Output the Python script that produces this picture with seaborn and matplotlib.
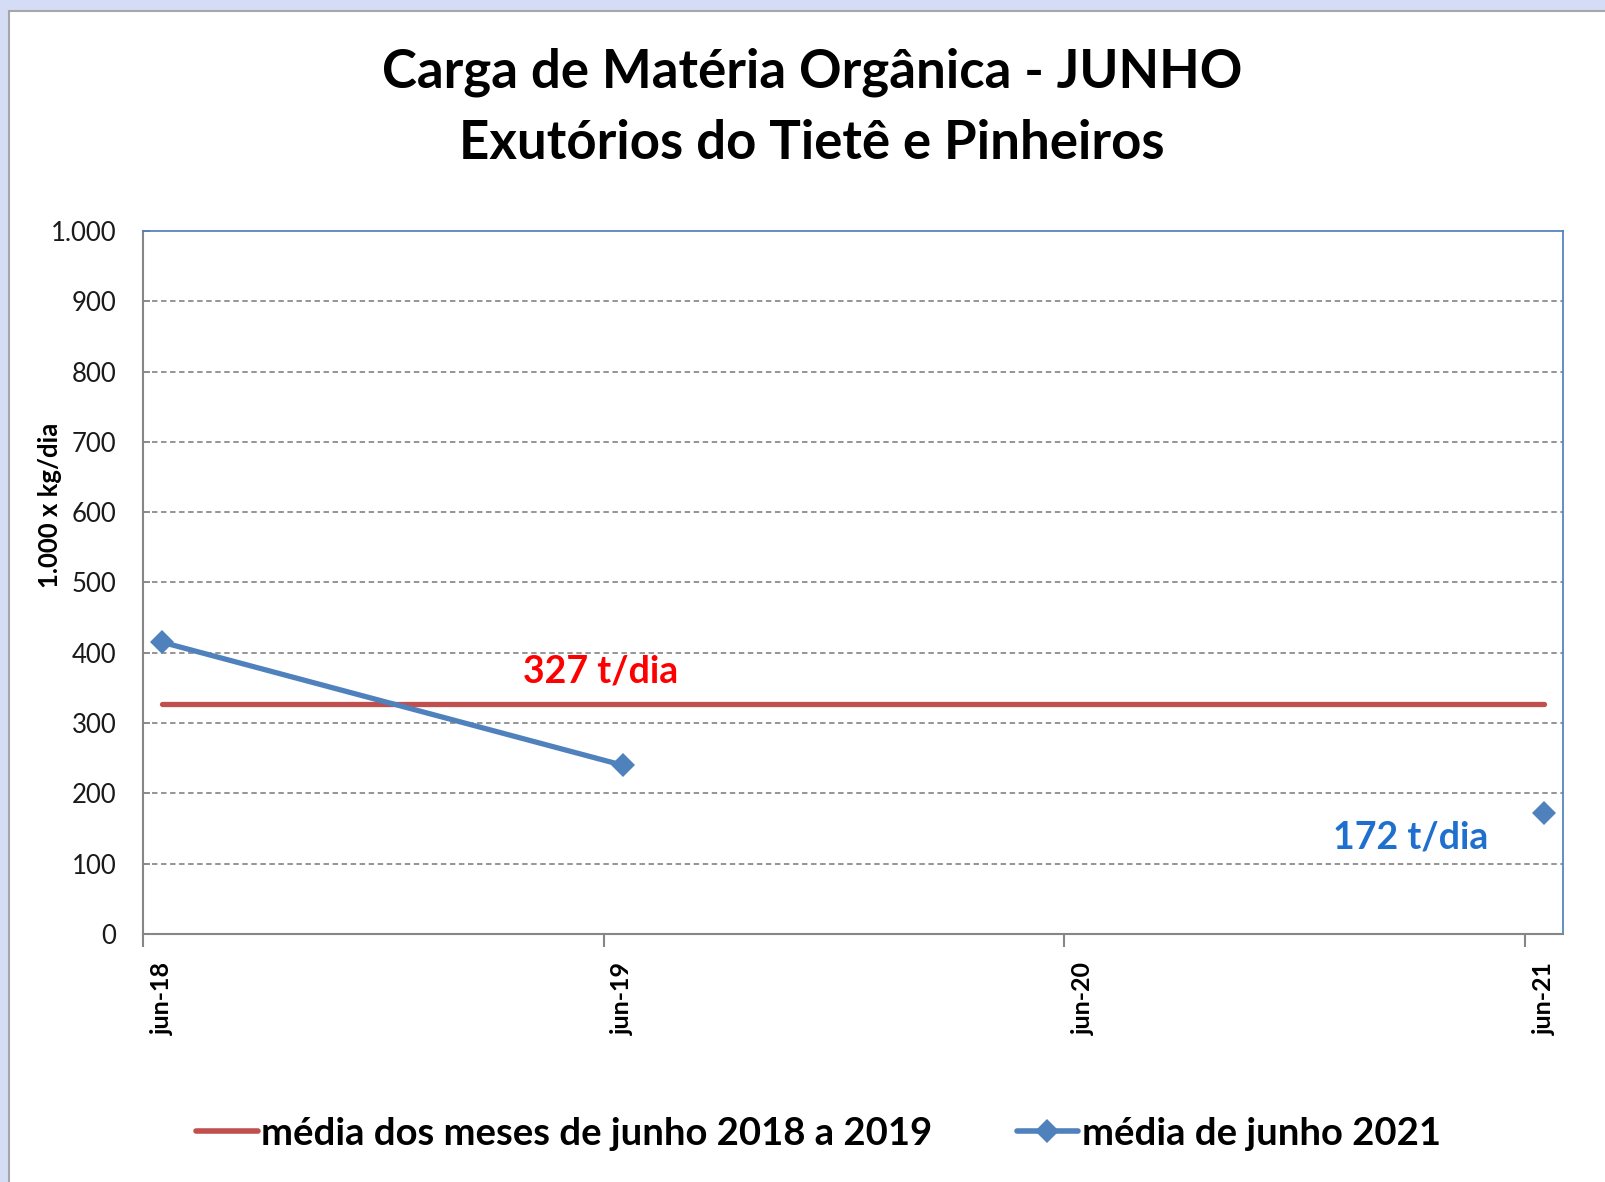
import pandas as pd
import numpy as np
import matplotlib
matplotlib.use("Agg")
import matplotlib.pyplot as plt
import seaborn as sns
from matplotlib.lines import Line2D
from matplotlib.patches import Rectangle
from matplotlib.ticker import FuncFormatter

# dados
meses = ["2018-06", "2019-06", "2020-06", "2021-06"]
rotulos = ["jun-18", "jun-19", "jun-20", "jun-21"]
media_2018_2019 = [327, 327, 327, 327]
junho_2021 = [415, 240, np.nan, 172]
trecho = [0, 0, 1, 2]

sns.set_theme(style="white")
plt.rcParams["font.family"] = ["Lato", "DejaVu Sans"]

datas = pd.to_datetime(meses)
base = datas[0]
# posicao no meio do mes (eixo de datas em meses)
pos = [(d.year - base.year) * 12 + (d.month - base.month) + 0.5 for d in datas]

df = pd.DataFrame({"mes": pos, "media": media_2018_2019,
                   "junho": junho_2021, "trecho": trecho})

fig = plt.figure(figsize=(16.05, 11.82), dpi=100, facecolor="#d5dcf6")
fig.patches.append(Rectangle((9 / 1605, -0.01), 1.1, 1.01 - 11 / 1182,
                             transform=fig.transFigure, facecolor="white",
                             edgecolor="#a6a6a6", linewidth=1.5, zorder=-5))
ax = fig.add_axes([0.0891, 0.2098, 0.8849, 0.5948])
ax.set_zorder(2)
ax.set_facecolor("white")

sns.lineplot(data=df, x="mes", y="media", ax=ax, color="#c0504d",
             linewidth=3.8, legend=False, zorder=3)
sns.lineplot(data=df.dropna(), x="mes", y="junho", units="trecho",
             estimator=None, ax=ax, color="#4f81bd", linewidth=3.8,
             marker="D", markersize=12, markeredgewidth=0, legend=False,
             zorder=4)

ax.set_xlim(0, 37)
ax.set_ylim(0, 1000)
ax.set_yticks(range(0, 1001, 100))
ax.yaxis.set_major_formatter(FuncFormatter(lambda v, p: f"{int(v):,}".replace(",", ".")))
ax.set_xticks(pos)
ax.set_xticklabels(rotulos, rotation=90, fontsize=18, fontweight="bold", color="black")
ax.set_xticks([12 * i for i in range(4)], minor=True)
ax.tick_params(axis="x", which="major", length=0, pad=20)
ax.tick_params(axis="x", which="minor", length=9, width=1.5, color="#868686",
               direction="out", bottom=True)
ax.tick_params(axis="y", length=5, width=1.3, direction="in", color="#868686",
               left=True, pad=19, labelsize=18.5, labelcolor="#1a1a1a")

for v in range(100, 1000, 100):
    ax.axhline(v, color="#8c8c8c", linewidth=1.3, linestyle=(0, (3, 2)), zorder=1)

ax.spines["left"].set_color("#868686")
ax.spines["bottom"].set_color("#868686")
ax.spines["left"].set_linewidth(1.5)
ax.spines["bottom"].set_linewidth(1.5)
ax.spines["top"].set_color("#4f81bd")
ax.spines["right"].set_color("#4f81bd")

ax.set_xlabel("")
ax.set_ylabel("1.000 x kg/dia", fontsize=18.5, fontweight="bold", color="black")
ax.yaxis.set_label_coords(-0.057, 0.61)

ax.text(9.9, 373, "327 t/dia", color="#ff0000", fontsize=27,
        fontweight="bold", va="center", ha="left")
ax.text(31.0, 137, "172 t/dia", color="#1f6fce", fontsize=27,
        fontweight="bold", va="center", ha="left")

fig.text(0.506, 0.939, "Carga de Matéria Orgânica - JUNHO", ha="center",
         va="center", fontsize=38, fontweight="bold", color="black")
fig.text(0.506, 0.879, "Exutórios do Tietê e Pinheiros", ha="center",
         va="center", fontsize=38, fontweight="bold", color="black")

handles = [Line2D([], [], color="#c0504d", linewidth=4),
           Line2D([], [], color="#4f81bd", linewidth=4, marker="D",
                  markersize=12, markeredgewidth=0)]
fig.legend(handles, ["média dos meses de junho 2018 a 2019", "média de junho 2021"],
           loc="center", bbox_to_anchor=(0.51, 0.041), ncol=2, frameon=False,
           prop={"size": 27.5, "weight": "bold"}, labelcolor="black",
           handlelength=1.6, handletextpad=0.1, columnspacing=2.2)

fig.savefig("out.png", dpi=100, facecolor=fig.get_facecolor())
